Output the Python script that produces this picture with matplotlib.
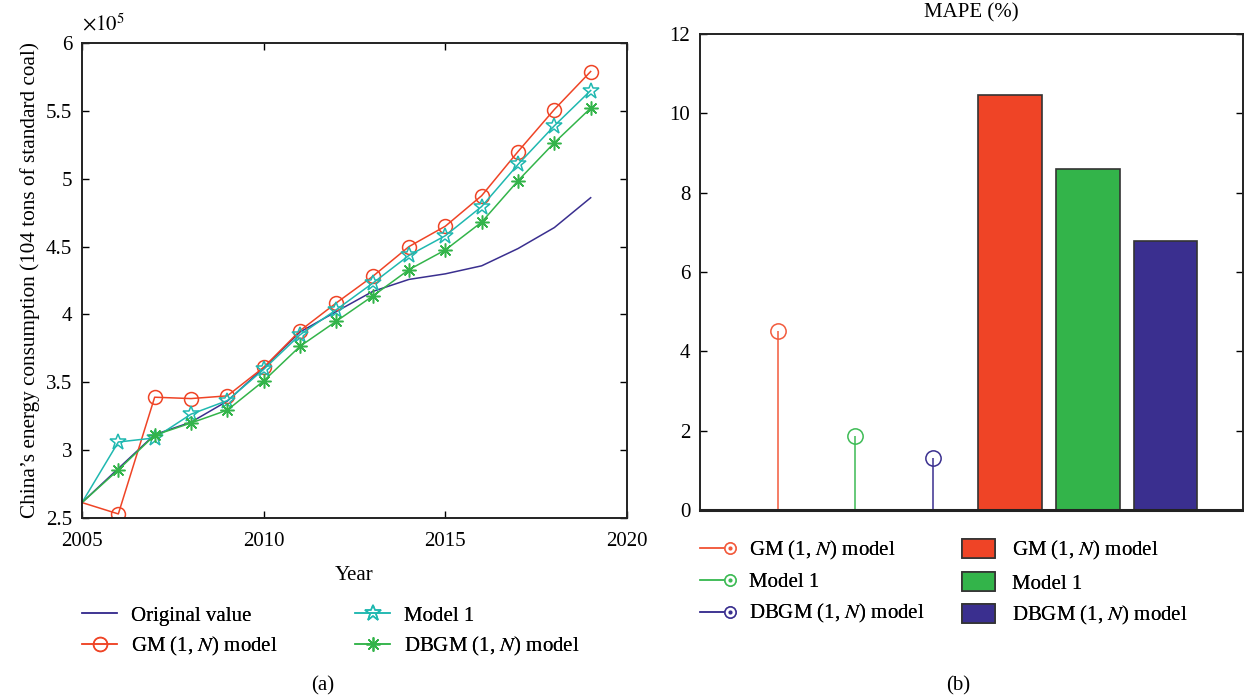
import numpy as np
import matplotlib
matplotlib.use("Agg")
import matplotlib.pyplot as plt
from matplotlib.lines import Line2D
from matplotlib.patches import Patch
from matplotlib.legend_handler import HandlerBase
from matplotlib.ticker import FuncFormatter

plt.rcParams['font.family'] = ['Liberation Serif', 'DejaVu Serif']
plt.rcParams['mathtext.fontset'] = 'stix'

# Panel (a): energy consumption (10^4 tons of standard coal)
years = np.arange(2005, 2020)
original = [261369, 286467, 311442, 320611, 336126, 360648, 387043, 402138,
            416913, 425806, 429905, 435819, 448529, 464000, 486000]
gm_1n = [261369, 253000, 339000, 338000, 340000, 361000, 388000, 408500,
         428000, 450000, 465000, 487500, 520000, 551000, 579000]
model1 = [261369, 306000, 309000, 326500, 336500, 359500, 385000, 403500,
          423000, 443500, 458000, 479500, 510500, 539000, 565000]
dbgm_1n = [261369, 285500, 311000, 320000, 329500, 351000, 376500, 395000,
           413500, 433000, 447500, 468000, 498500, 526500, 552000]

# Panel (b): MAPE (%)
mape_labels = ['GM (1, $N$) model', 'Model 1', 'DBGM (1, $N$) model']
mape_stem = [4.52, 1.86, 1.30]
mape_bar = [10.45, 8.60, 6.78]

c_blue = '#3a2f8f'
c_red = '#ef4426'
c_cyan = '#1fb8b0'
c_green = '#33b44a'
c_stem = ['#f25a3c', '#3dbb55', '#3a2f8f']
c_bar = [c_red, c_green, c_blue]

fig = plt.figure(figsize=(12.44, 6.99), dpi=100)
W, H = 1244, 699


def axes_px(x0, y0, x1, y1):
    return fig.add_axes([x0 / W, 1 - y1 / H, (x1 - x0) / W, (y1 - y0) / H])


def style(ax):
    ax.tick_params(direction='in', top=True, right=True, labelsize=15,
                   length=5, width=1.0)
    ax.tick_params(axis='x', pad=10)
    ax.tick_params(axis='y', pad=7)
    for s in ax.spines.values():
        s.set_linewidth(1.4)
        s.set_color('#222222')


def legend_col(handles, labels, x, y, **kw):
    # one legend column, anchored at the handle start / top of the first row
    opts = dict(loc='upper left', bbox_to_anchor=(x / W, 1 - y / H),
                frameon=False, fontsize=15, borderpad=0, borderaxespad=0,
                handlelength=1.7, handletextpad=0.65, labelspacing=0.45)
    opts.update(kw)
    fig.add_artist(fig.legend(handles, labels, **opts))


class StemHandler(HandlerBase):
    # line with a dotted circle at its right end, like a stem legend entry
    def create_artists(self, legend, orig, xdescent, ydescent, width, height,
                       fontsize, trans):
        c = orig.get_color()
        y = height / 2 - ydescent
        xe = width - xdescent - 4
        line = Line2D([-xdescent, xe - 4], [y, y], color=c, lw=1.1)
        circ = Line2D([xe], [y], ls='none', marker='o', ms=8, mfc='white',
                      mec=c, mew=1.1)
        dot = Line2D([xe], [y], ls='none', marker='o', ms=2, color=c)
        for a in (line, circ, dot):
            a.set_transform(trans)
        return [line, circ, dot]


# ---- (a)
ax = axes_px(82, 43, 627, 518)
ax.plot(years, original, color=c_blue, lw=1.1, label='Original value')
ax.plot(years, gm_1n, color=c_red, lw=1.1, marker='o', ms=10, mfc='none',
        mew=1.1, markevery=slice(1, None), label='GM (1, $N$) model')
ax.plot(years, model1, color=c_cyan, lw=1.1, marker='*', ms=12, mfc='none',
        mew=1.1, markevery=slice(1, None), label='Model 1')
ax.plot(years, dbgm_1n, color=c_green, lw=1.1, marker=(8, 2, 0), ms=10,
        mew=1.1, markevery=slice(1, None), label='DBGM (1, $N$) model')
ax.set_xlim(2005, 2020)
ax.set_ylim(2.5e5, 6e5)
ax.set_xticks([2005, 2010, 2015, 2020])
ax.set_yticks(np.arange(2.5e5, 6.01e5, 0.5e5))
ax.yaxis.set_major_formatter(FuncFormatter(lambda v, p: f'{v / 1e5:g}'))
style(ax)
ax.text(0.0, 1.015, r'$\times10^5$', transform=ax.transAxes, fontsize=15,
        ha='left', va='bottom')
ax.set_xlabel('Year', fontsize=15, labelpad=11)
ax.set_ylabel('China’s energy consumption (104 tons of standard coal)',
              fontsize=15.3, labelpad=4)

h, l = ax.get_legend_handles_labels()
legend_col([h[0], h[1]], [l[0], l[1]], 82, 606)
legend_col([h[2], h[3]], [l[2], l[3]], 355, 606)
fig.text(323 / W, 1 - 686 / H, '(a)', fontsize=15, ha='center', va='center')

# ---- (b)
bx = axes_px(700, 34, 1243, 510)
pos = np.arange(1, 7)
stem_handles = []
for i in range(3):
    bx.vlines(pos[i], 0, mape_stem[i], color=c_stem[i], lw=1.1)
    bx.plot(pos[i], mape_stem[i], 'o', ms=11, mfc='none', mec=c_stem[i], mew=1.1)
    stem_handles.append(Line2D([], [], color=c_stem[i]))
bx.bar(pos[3:], mape_bar, width=0.82, color=c_bar, edgecolor='#333333', lw=1.2)
bx.set_xlim(0, 7)
bx.set_ylim(0, 12)
bx.set_xticks([])
bx.set_yticks(np.arange(0, 13, 2))
style(bx)
bx.spines['bottom'].set_linewidth(2.2)
bx.set_title('MAPE (%)', fontsize=15, pad=12)

bar_handles = [Patch(facecolor=c, edgecolor='#333333', lw=1.2) for c in c_bar]
legend_col(stem_handles, mape_labels, 700, 539,
           handler_map={Line2D: StemHandler()}, handlelength=1.7,
           handletextpad=0.65, labelspacing=0.5)
legend_col(bar_handles, mape_labels, 962, 539, handlelength=1.6,
           handleheight=1.0, handletextpad=0.8, labelspacing=0.5)
fig.text(958 / W, 1 - 686 / H, '(b)', fontsize=15, ha='center', va='center')

fig.savefig('out.png', dpi=100)
